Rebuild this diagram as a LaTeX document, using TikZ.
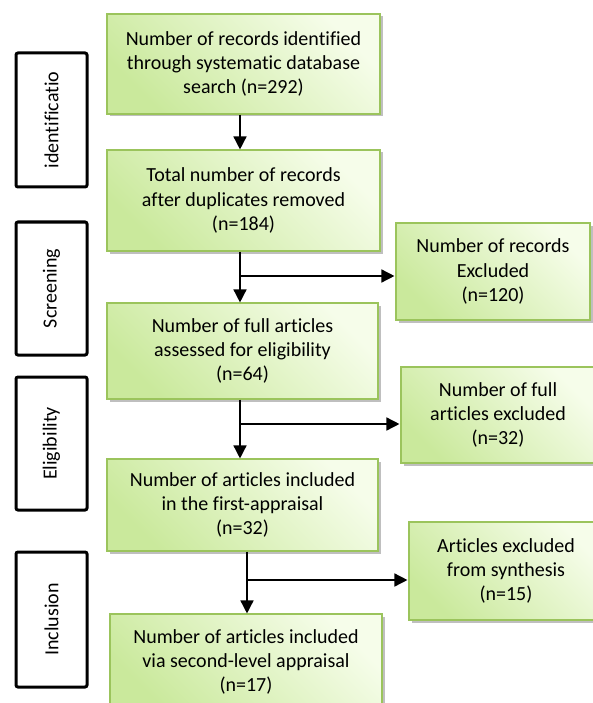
\documentclass[tikz,border=0pt]{standalone}
\usepackage{fontspec}
\setmainfont{Carlito}[Ligatures=NoCommon]
\usetikzlibrary{arrows.meta,shadows,calc}
\definecolor{gdark}{RGB}{202,233,156}
\definecolor{glight}{RGB}{246,253,234}
\definecolor{gborder}{RGB}{155,196,92}
\begin{document}
\begin{tikzpicture}[x=1pt,y=-1pt,
  txt/.style={font=\fontsize{20}{24.3}\selectfont, align=center, inner sep=0pt},
  gbox/.style={txt, draw=gborder, line width=1.1pt,
    top color=glight, bottom color=gdark, shading angle=-45,
    drop shadow={shadow xshift=2.5pt, shadow yshift=-2.5pt, opacity=0.25, fill=black}},
  phase/.style={txt, draw=black, line width=3pt, rounded corners=2pt, fill=white, rotate=90},
  arr/.style={line width=1.5pt, -{Triangle[length=13pt,width=13pt]}},
  ln/.style={line width=1.5pt}]
\useasboundingbox (0,0) rectangle (592,703);

% phase labels
\node[phase, minimum width=134pt, minimum height=71pt] (L1) at (51.5,120) {identificatio};
\node[phase, minimum width=133pt, minimum height=71pt] (L2) at (51.5,288.5) {Screening};
\node[phase, minimum width=133pt, minimum height=71pt] (L3) at (51.5,443.5) {Eligibility};
\node[phase, minimum width=135pt, minimum height=71pt] (L4) at (51.5,619.5) {Inclusion};

% main boxes
\node[gbox, minimum width=273pt, minimum height=100pt] (B1) at (243.5,64)
  {Number of records identified\\through systematic database\\search (n=292)};
\node[gbox, minimum width=273pt, minimum height=101pt] (B2) at (243.5,200.5)
  {Total number of records\\after duplicates removed\\(n=184)};
\node[gbox, minimum width=271pt, minimum height=96pt] (B3) at (242.5,351)
  {Number of full articles\\assessed for eligibility\\(n=64)};
\node[gbox, minimum width=271pt, minimum height=92pt] (B4) at (242.5,505)
  {Number of articles included\\in the first-appraisal\\(n=32)};
\node[gbox, minimum width=272pt, minimum height=96pt] (B5) at (246,662)
  {Number of articles included\\via second-level appraisal\\(n=17)};

% excluded boxes
\node[gbox, minimum width=194pt, minimum height=97pt] (R1) at (493,271.5)
  {Number of records\\Excluded\\(n=120)};
\node[gbox, minimum width=194pt, minimum height=96pt] (R2) at (498,415)
  {Number of full\\articles excluded\\(n=32)};
\node[gbox, minimum width=194pt, minimum height=98pt] (R3) at (506,571)
  {Articles excluded\\from synthesis\\(n=15)};

% connectors
\draw[arr] ([xshift=-3.5pt]B1.south) -- ([xshift=-3.5pt]B1.south |- B2.north);

\coordinate (J1) at ([xshift=-3.5pt]B2.south |- 0,276);
\draw[arr] ([xshift=-3.5pt]B2.south) -- ([xshift=-3.5pt]B2.south |- B3.north);
\draw[arr] (J1) -- ([xshift=-1pt]J1 -| R1.west);

\coordinate (J2) at ([xshift=-2.5pt]B3.south |- 0,424);
\draw[arr] ([xshift=-2.5pt]B3.south) -- ([xshift=-2.5pt]B3.south |- B4.north);
\draw[arr] (J2) -- ([xshift=-1pt]J2 -| R2.west);

\coordinate (J3) at ([xshift=4.5pt]B4.south |- 0,580);
\draw[arr] ([xshift=4.5pt]B4.south) -- ([xshift=4.5pt]B4.south |- B5.north);
\draw[arr] (J3) -- ([xshift=-1pt]J3 -| R3.west);
\end{tikzpicture}
\end{document}
